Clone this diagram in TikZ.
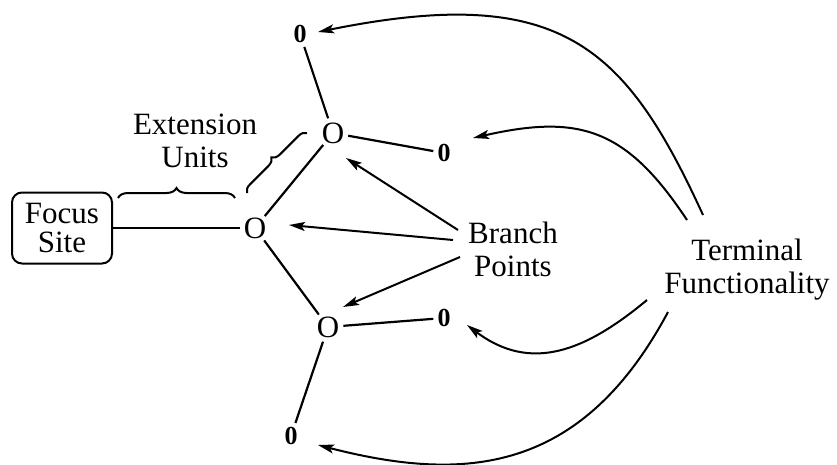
\documentclass[tikz,border=0pt]{standalone}
\usepackage{fontspec}
\setmainfont{Liberation Serif}
\usetikzlibrary{arrows.meta,calc,decorations.pathreplacing}
\begin{document}
\begin{tikzpicture}[x=1pt,y=-1pt,
  txt/.style={font=\fontsize{31}{33}\selectfont, align=center, inner sep=2pt},
  bigO/.style={circle, inner sep=0pt, font=\fontsize{31}{33}\selectfont},
  endO/.style={inner sep=4pt, font=\fontsize{26}{28}\selectfont\bfseries},
  bond/.style={line width=2.2pt},
  arr/.style={line width=2pt, -{Stealth[length=16pt,width=9pt,inset=3.5pt]}},
  brc/.style={line width=2pt, decorate, decoration={brace, amplitude=10pt}},
]
\useasboundingbox (0,0) rectangle (837,465);

% core, branch points and terminal groups
\node[txt, draw, line width=2pt, rounded corners=10pt,
      minimum width=100pt, minimum height=71pt] (fs) at (62,228) {Focus\\[-4pt]Site};
\node[bigO] (o1) at (255,228) {O};
\node[bigO] (o2) at (333,133) {O};
\node[bigO] (o3) at (328,327) {O};
\node[endO] (t1) at (300,34) {0};
\node[endO] (t2) at (444,153) {0};
\node[endO] (t3) at (444,318) {0};
\node[endO] (t4) at (291,436) {0};

% labels
\node[txt] (ext) at (195,141) {Extension\\Units};
\node[txt] (bp) at (513,249) {Branch\\Points};
\node[txt] (tf) at (747,270) {Terminal\\Functionality};

% bonds
\draw[bond] (fs.east) -- (o1);
\draw[bond] (o1) -- (o2);
\draw[bond] (o1) -- (o3);
\draw[bond] (o2) -- (t1);
\draw[bond] (o2) -- (t2);
\draw[bond] (o3) -- (t3);
\draw[bond] (o3) -- (t4);

% braces marking the extension units
\draw[brc] (118,198) -- (235,198);
\draw[brc, decoration={amplitude=8pt}] (247,193) -- (307,133);

% branch point arrows
\draw[arr] ($(bp)+(-55,-19)$) -- ($(o2)+(13,25)$);
\draw[arr] ($(bp)+(-60,-9)$) -- ($(o1)+(34,-3)$);
\draw[arr] ($(bp)+(-53,8)$) -- ($(o3)+(15,-20)$);

% terminal functionality arrows
\draw[arr] ($(tf)+(-44,-55)$) .. controls (625,45) and (560,-17) .. ($(t1)+(18,-2)$);
\draw[arr] ($(tf)+(-60,-50)$) .. controls (626.5,128.7) and (579.7,113.8) .. ($(t2)+(29,-15)$);
\draw[arr] ($(tf)+(-100,30)$) .. controls (585.4,351.2) and (531,373) .. ($(t3)+(23,7)$);
\draw[arr] ($(tf)+(-79,42)$) .. controls (581,474.8) and (463.5,482.5) .. ($(t4)+(27,9)$);
\end{tikzpicture}
\end{document}
